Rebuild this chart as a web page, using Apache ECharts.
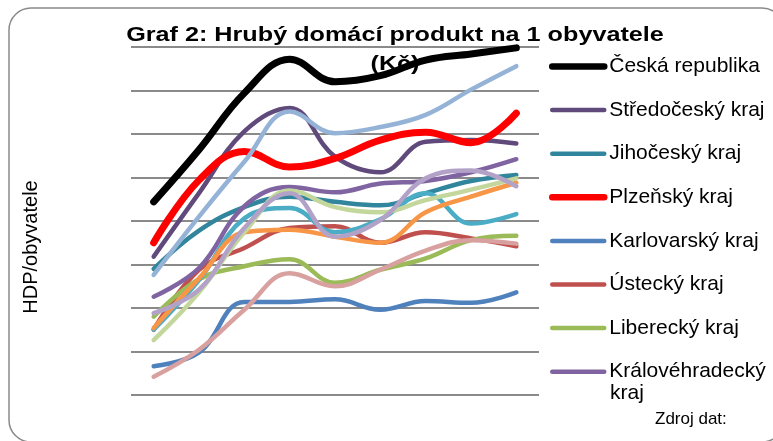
<!DOCTYPE html>
<html lang="cs">
<head>
    <meta charset="UTF-8">
    <title>Graf 2</title>
    <script src="https://cdn.jsdelivr.net/npm/echarts@6/dist/echarts.min.js"></script>
    <style>
        html, body { margin: 0; padding: 0; background: #fff; }
        #chart_box { width: 773px; height: 441px; }
    </style>
</head>
<body>
<div id="chart_box"></div>
<script>
    // roky (popisky osy x nejsou v grafu zobrazeny)
    var roky = ['2000', '2001', '2002', '2003', '2004', '2005', '2006', '2007', '2008'];

    // hodnoty (tis. Kč, odhad)
    var ceskaRepublika  = [222, 282, 347, 386, 360, 367, 385, 392, 399];
    var stredocesky     = [159, 232, 303, 330, 274, 256, 291, 293, 289];
    var jihocesky       = [145, 189, 216, 228, 222, 218, 232, 246, 253];
    var plzensky        = [175, 247, 280, 262, 272, 293, 302, 290, 324];
    var karlovarsky     = [33, 49, 107, 107, 110, 98, 108, 106, 118];
    var ustecky         = [75, 144, 169, 192, 194, 175, 187, 180, 171];
    var liberecky       = [90, 133, 148, 156, 129, 144, 157, 178, 183];
    var kralovehradecky = [113, 146, 217, 239, 233, 243, 246, 256, 271];
    var pardubicky      = [75, 132, 203, 215, 187, 202, 232, 197, 208];
    var vysocina        = [77, 134, 187, 190, 182, 175, 210, 228, 244];
    var jihomoravsky    = [138, 205, 268, 326, 301, 308, 322, 351, 378];
    var olomoucky       = [21, 52, 98, 140, 125, 144, 166, 178, 174];
    var zlinsky         = [63, 118, 187, 235, 216, 210, 224, 236, 249];
    var moravskoslezsky = [94, 121, 192, 232, 182, 201, 249, 258, 240];

    // jen prvních 8 položek se vejde do legendy
    var legendaNazvy = ['Česká republika', 'Středočeský kraj', 'Jihočeský kraj', 'Plzeňský kraj',
        'Karlovarský kraj', 'Ústecký kraj', 'Liberecký kraj', 'Královéhradecký kraj'];

    var rady = [
        ['Česká republika', ceskaRepublika, '#000000', 7],
        ['Středočeský kraj', stredocesky, '#604a7b', 4.5],
        ['Jihočeský kraj', jihocesky, '#31859c', 4.5],
        ['Plzeňský kraj', plzensky, '#ff0000', 7],
        ['Karlovarský kraj', karlovarsky, '#4f81bd', 4.5],
        ['Ústecký kraj', ustecky, '#c0504d', 4.5],
        ['Liberecký kraj', liberecky, '#9bbb59', 4.5],
        ['Královéhradecký kraj', kralovehradecky, '#8064a2', 4.5],
        ['Pardubický kraj', pardubicky, '#4bacc6', 4.5],
        ['Kraj Vysočina', vysocina, '#f79646', 4.5],
        ['Jihomoravský kraj', jihomoravsky, '#95b3d7', 4.5],
        ['Olomoucký kraj', olomoucky, '#d8a1a0', 4.5],
        ['Zlínský kraj', zlinsky, '#c3d69b', 4.5],
        ['Moravskoslezský kraj', moravskoslezsky, '#b3a2c7', 4.5]
    ];

    var series = rady.map(function (r) {
        return {
            name: r[0],
            type: 'line',
            data: r[1],
            smooth: 0.4,
            symbol: 'none',
            showSymbol: false,
            color: r[2],
            lineStyle: {width: r[3], color: r[2], cap: 'round', join: 'round'}
        };
    });

    // položky legendy se stejnou tloušťkou čáry jako v grafu
    var legendaData = legendaNazvy.map(function (n) {
        var r = rady.filter(function (x) { return x[0] === n; })[0];
        return {name: n, lineStyle: {width: r[3] === 7 ? 6.5 : 4.5, color: r[2], cap: 'round'}};
    });

    var chart = echarts.init(document.getElementById('chart_box'), null, {renderer: 'canvas'});

    var option = {
        animation: false,
        backgroundColor: '#ffffff',
        textStyle: {fontFamily: 'Liberation Sans, Arial, sans-serif'},
        grid: {  // plocha grafu
            left: 131,
            right: 234,
            top: 47,
            bottom: 46
        },
        legend: {
            data: legendaData,
            orient: 'vertical',
            left: 544,
            top: 51,
            itemWidth: 52,
            itemHeight: 20,
            itemGap: 22.6,
            itemStyle: {opacity: 0},  // bez kolečka, jen čára
            lineStyle: {cap: 'round'},
            textStyle: {
                fontSize: 21,
                lineHeight: 20,
                color: '#000',
                fontFamily: 'Liberation Sans, Arial, sans-serif'
            },
            formatter: function (name) {
                return name === 'Královéhradecký kraj' ? 'Královéhradecký' : name;
            }
        },
        xAxis: {
            type: 'category',
            boundaryGap: true,
            data: roky,
            axisLine: {show: false},
            axisTick: {show: false},
            axisLabel: {show: false}
        },
        yAxis: {
            type: 'value',
            min: 0,
            max: 400,
            interval: 50,
            axisLine: {show: false},
            axisTick: {show: false},
            axisLabel: {show: false},
            splitLine: {lineStyle: {color: '#8a8a8a', width: 2}}
        },
        graphic: [
            {
                type: 'rect',
                z: -1,
                shape: {x: 9, y: 8, width: 775, height: 434, r: 22},
                style: {fill: 'none', stroke: '#8a8a8a', lineWidth: 1.5}
            },
            {
                type: 'text',
                z: 0,
                x: 395,
                y: 21,
                scaleX: 1.2,
                style: {
                    text: 'Graf 2: Hrubý domácí produkt na 1 obyvatele\n(Kč)',
                    font: 'bold 21px Liberation Sans, Arial, sans-serif',
                    lineHeight: 29,
                    align: 'center',
                    verticalAlign: 'top',
                    fill: '#000'
                }
            },
            {
                type: 'text',  // název osy y
                x: 31,
                y: 247,
                rotation: Math.PI / 2,
                style: {
                    text: 'HDP/obyvatele',
                    font: '20px Liberation Sans, Arial, sans-serif',
                    align: 'center',
                    verticalAlign: 'middle',
                    fill: '#000'
                }
            },
            {
                type: 'text',
                x: 610,
                y: 393,
                style: {
                    text: 'kraj',
                    font: '21px Liberation Sans, Arial, sans-serif',
                    verticalAlign: 'middle',
                    fill: '#000'
                }
            },
            {
                type: 'text',
                x: 655,
                y: 419,
                style: {
                    text: 'Zdroj dat:',
                    font: '17px Liberation Sans, Arial, sans-serif',
                    verticalAlign: 'middle',
                    fill: '#000'
                }
            }
        ],
        series: series
    };
    chart.setOption(option);
</script>
</body>
</html>
